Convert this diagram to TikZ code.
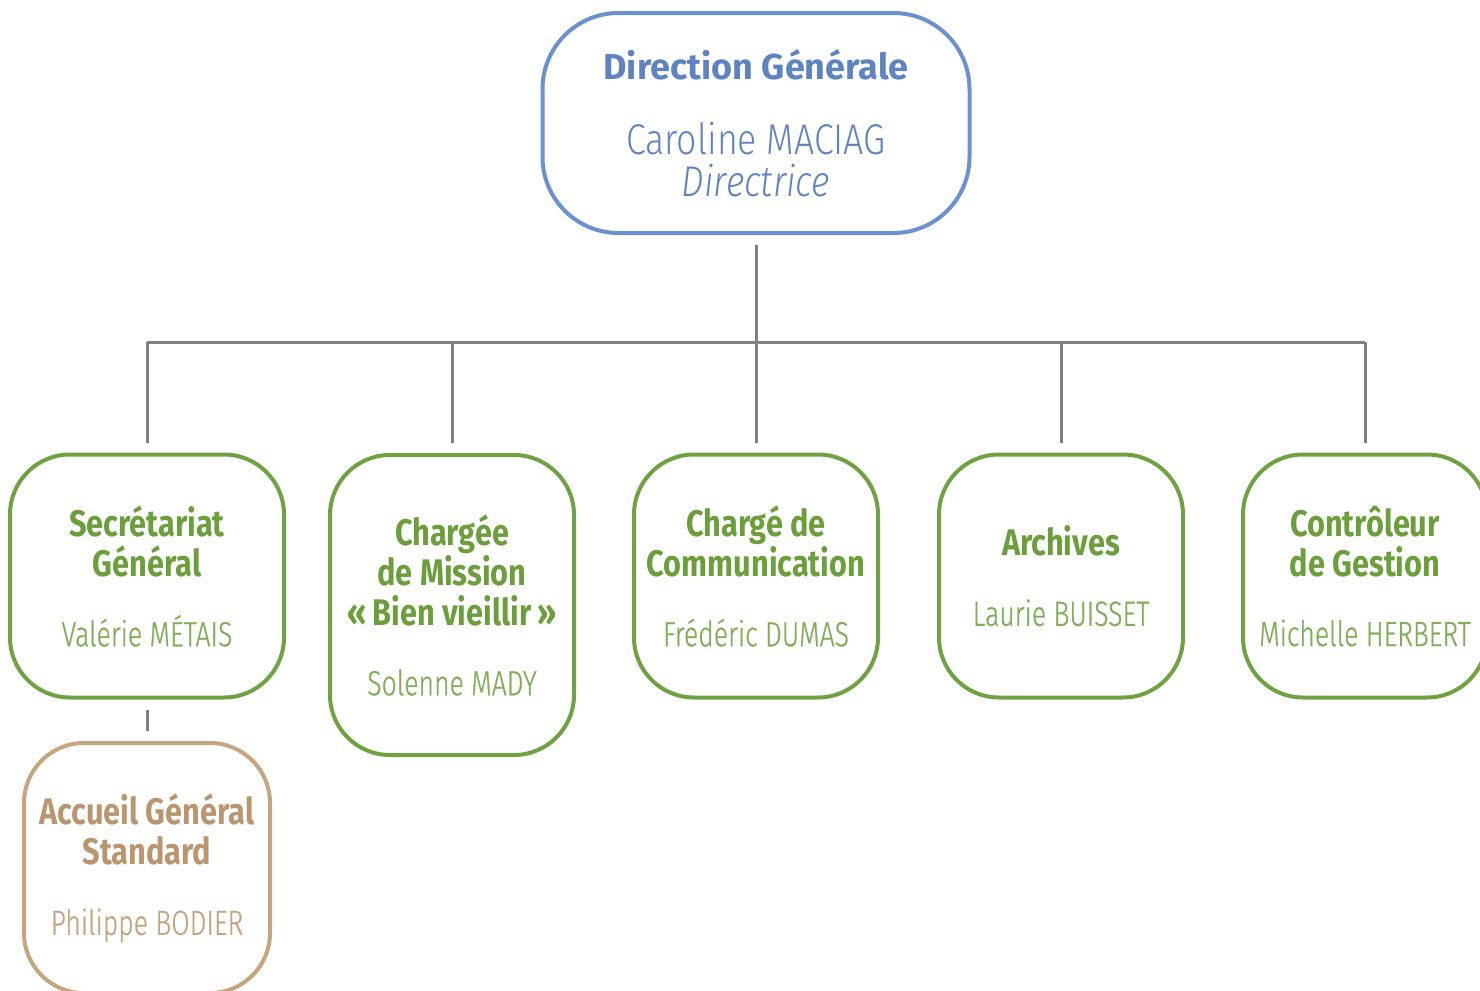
\documentclass[tikz,border=0pt]{standalone}
\usepackage{fontspec}
\setmainfont{Fira Sans}[FakeStretch=0.83]
\newfontfamily\widefont{Fira Sans}
\newfontfamily\lightfont{Fira Sans Light}[FakeStretch=0.83]
\newfontfamily\namefont{Fira Sans Light}[FakeStretch=0.76, FakeBold=0.6]

\definecolor{headline}{HTML}{6C90D0}
\definecolor{headtext}{HTML}{5F82C2}
\definecolor{leafline}{HTML}{6FA342}
\definecolor{leaftext}{HTML}{6C9E3C}
\definecolor{tanline}{HTML}{C6A67F}
\definecolor{tantext}{HTML}{B99670}
\definecolor{linkgray}{HTML}{808080}

\newcommand\headfont{\bfseries\fontsize{18.5}{20}\selectfont}
\newcommand\person[1]{{\namefont\mdseries\fontsize{17.5}{18}\selectfont
	\color{.!85!white}#1}}

\begin{document}
\begin{tikzpicture}[x = 0.5pt, y = -0.5pt,
		box/.style = {draw, line width = 2pt, align = center, inner sep = 0pt,
			outer sep = 6pt, font = \headfont},
		head/.style = {box, draw = headline, text = headtext, rounded corners = 38pt,
			minimum width = 213.5pt, minimum height = 110pt,
			font = \widefont\bfseries\fontsize{18}{21}\selectfont},
		leaf/.style = {box, draw = leafline, text = leaftext, rounded corners = 30pt,
			minimum width = 122pt, minimum height = 121.5pt},
		tan/.style = {box, draw = tanline, text = tantext, rounded corners = 30pt,
			minimum width = 123pt, minimum height = 125pt},
		link/.style = {draw = linkgray, line width = 1.5pt}]
		\useasboundingbox (0, 0) rectangle (1480, 991) ;
		\clip (0, 0) rectangle (1480, 991) ;
		% direction
		\node [head] (dg) at (756, 123)
			{Direction Générale\\[16.5pt]
			{\lightfont\mdseries\fontsize{21.5}{21}\selectfont Caroline MACIAG}\\
			{\lightfont\mdseries\itshape\fontsize{21.5}{21}\selectfont Directrice}} ;
		% services
		\node [leaf, minimum width = 137pt] (sg) at (147, 576)
			{Secrétariat\\Général\\[15pt]\person{Valérie MÉTAIS}} ;
		\node [leaf, minimum height = 150pt] (cm) at (452, 605)
			{Chargée\\de Mission\\«\,Bien vieillir\,»\\[15pt]\person{Solenne MADY}} ;
		\node [leaf] (cc) at (756, 576)
			{Chargé de\\Communication\\[15pt]\person{Frédéric DUMAS}} ;
		\node [leaf] (ar) at (1061, 576)
			{Archives\\[15pt]\person{Laurie BUISSET}} ;
		\node [leaf] (cg) at (1365, 576)
			{Contrôleur\\de Gestion\\[15pt]\person{Michelle HERBERT}} ;
		\node [tan] (acc) at (147, 868)
			{Accueil Général\\Standard\\[15pt]\person{Philippe BODIER}} ;
		% links
		\coordinate (bar) at (756, 342) ;
		\draw [link] (dg) -- (dg |- bar) ;
		\draw [link] (sg |- bar) -- (cg |- bar) ;
		\foreach \n in {sg, cm, cc, ar, cg}
			\draw [link] (\n) -- (\n |- bar) ;
		\draw [link] (sg) -- (acc) ;
	\end{tikzpicture}
\end{document}
